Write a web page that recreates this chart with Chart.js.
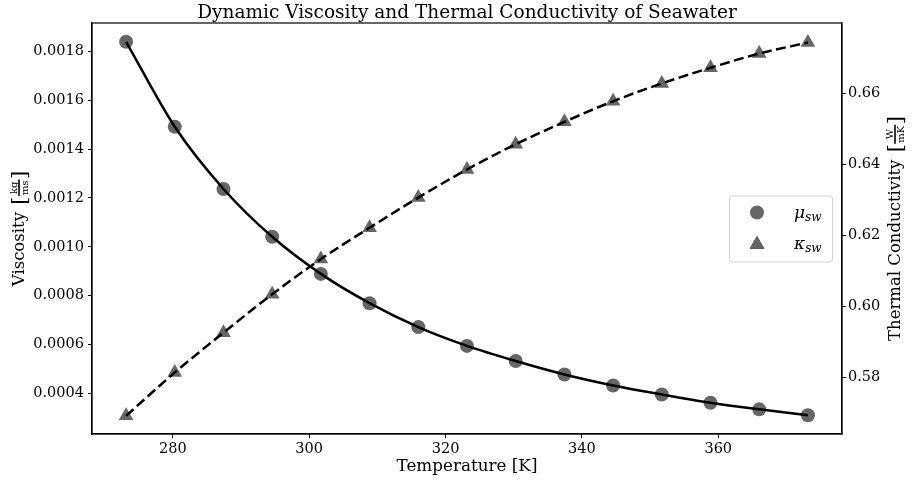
<!DOCTYPE html>
<html>
<head>
<meta charset="utf-8">
<script src="https://cdn.jsdelivr.net/npm/chart.js@4.4.1/dist/chart.umd.min.js"></script>
<style>
    html, body { margin: 0; padding: 0; background: #fff; }
    #wrap { width: 912px; height: 480px; }
</style>
</head>
<body>
<div id="wrap"><canvas id="chart" width="912" height="480"></canvas></div>
<script>
// Seawater properties vs temperature
const temps = [273.15, 280.29, 287.44, 294.58, 301.72, 308.86, 316.01, 323.15, 330.29, 337.44, 344.58, 351.72, 358.86, 366.01, 373.15];
const viscosity = [0.00184, 0.001492, 0.001237, 0.001041, 0.000889, 0.000769, 0.000671, 0.000594, 0.000532, 0.000477, 0.000432, 0.000395, 0.000361, 0.000334, 0.00031];
const conductivity = [0.5692, 0.5814, 0.5926, 0.6034, 0.6133, 0.6221, 0.6306, 0.6385, 0.6456, 0.6519, 0.6577, 0.6627, 0.6671, 0.6711, 0.6742];

// Tick labels
const xTicks = [280, 300, 320, 340, 360];
const viscTicks = [0.0004, 0.0006, 0.0008, 0.0010, 0.0012, 0.0014, 0.0016, 0.0018];
const condTicks = [0.58, 0.60, 0.62, 0.64, 0.66];

const SERIF = '"DejaVu Serif", serif';
const MARKER = '#666666';

const toPoints = ys => temps.map((t, i) => ({ x: t, y: ys[i] }));

// Draw "word [num/den]" rotated bottom-to-top, centred on (cx, cy)
function drawFracLabel(ctx, cx, cy, word, num, den) {
    ctx.save();
    ctx.translate(cx, cy);
    ctx.rotate(-Math.PI / 2);
    ctx.fillStyle = '#000';
    ctx.strokeStyle = '#000';
    ctx.textAlign = 'left';
    ctx.textBaseline = 'alphabetic';

    const wordFont = '16.5px ' + SERIF;
    const fracFont = '10px ' + SERIF;
    const brFont = '21px ' + SERIF;

    ctx.font = wordFont;
    const wWord = ctx.measureText(word + ' ').width + 2;
    ctx.font = fracFont;
    const wFrac = Math.max(ctx.measureText(num).width, ctx.measureText(den).width) + 3;
    ctx.font = brFont;
    const wBr = ctx.measureText('[').width;
    const total = wWord + wBr * 2 + wFrac;

    let x = -total / 2;
    const base = 5;
    ctx.font = wordFont;
    ctx.fillText(word, x, base);
    x += wWord;

    ctx.font = brFont;
    ctx.fillText('[', x, base + 2);
    x += wBr;

    // fraction
    const mid = base - 5;
    ctx.font = fracFont;
    ctx.textAlign = 'center';
    ctx.fillText(num, x + wFrac / 2, mid - 2);
    ctx.fillText(den, x + wFrac / 2, mid + 9);
    ctx.lineWidth = 1.6;
    ctx.beginPath();
    ctx.moveTo(x + 0.5, mid);
    ctx.lineTo(x + wFrac - 0.5, mid);
    ctx.stroke();
    x += wFrac;

    ctx.textAlign = 'left';
    ctx.font = brFont;
    ctx.fillText(']', x, base + 2);
    ctx.restore();
}

// Titles, frame and legend box
const decorations = {
    id: 'decorations',
    afterDatasetsDraw(chart) {
        const { ctx, chartArea: a } = chart;
        ctx.save();

        // axes frame
        ctx.strokeStyle = '#000';
        ctx.lineWidth = 1.2;
        ctx.strokeRect(a.left, a.top, a.right - a.left, a.bottom - a.top);

        // chart title
        ctx.fillStyle = '#000';
        ctx.font = '18.5px ' + SERIF;
        ctx.textAlign = 'center';
        ctx.textBaseline = 'alphabetic';
        ctx.fillText('Dynamic Viscosity and Thermal Conductivity of Seawater', (a.left + a.right) / 2, 18);

        // x axis title
        ctx.font = '16.8px ' + SERIF;
        ctx.fillText('Temperature [K]', (a.left + a.right) / 2, 471);

        const cy = (a.top + a.bottom) / 2;
        drawFracLabel(ctx, 19, cy, 'Viscosity', 'kg', 'ms');
        drawFracLabel(ctx, 895, cy, 'Thermal Conductivity', 'W', 'mK');

        // legend
        const bw = 103, bh = 66;
        const bx = a.right - 10 - bw, by = cy - bh / 2;
        ctx.fillStyle = 'rgba(255,255,255,0.8)';
        ctx.strokeStyle = '#d0d0d0';
        ctx.lineWidth = 1;
        ctx.beginPath();
        ctx.roundRect(bx + 0.5, by + 0.5, bw, bh, 3);
        ctx.fill();
        ctx.stroke();

        const rows = [
            { style: 'circle', sym: 'μ', sub: 'sw', y: by + 17 },
            { style: 'triangle', sym: 'κ', sub: 'sw', y: by + 48 }
        ];
        rows.forEach(r => {
            Chart.helpers.drawPoint(ctx, {
                pointStyle: r.style, radius: r.style === 'circle' ? 7 : 8.5,
                borderWidth: 0, rotation: 0
            }, bx + 28, r.y + (r.style === 'circle' ? 0 : 1));
            ctx.fillStyle = MARKER;
            ctx.fill();
            ctx.fillStyle = '#000';
            ctx.textAlign = 'left';
            ctx.font = 'italic 17px ' + SERIF;
            ctx.fillText(r.sym, bx + 65, r.y + 5);
            const w = ctx.measureText(r.sym).width;
            ctx.font = 'italic 12px ' + SERIF;
            ctx.fillText(r.sub, bx + 65 + w, r.y + 8);
        });

        ctx.restore();
    }
};

const tickFont = { family: SERIF, size: 14.5 };

new Chart(document.getElementById('chart').getContext('2d'), {
    type: 'scatter',
    data: {
        datasets: [
            {
                type: 'line',
                data: toPoints(viscosity),
                yAxisID: 'y',
                borderColor: '#000',
                borderWidth: 2.5,
                pointRadius: 0,
                cubicInterpolationMode: 'monotone',
                order: 0
            },
            {
                type: 'line',
                data: toPoints(conductivity),
                yAxisID: 'y1',
                borderColor: '#000',
                borderWidth: 2.5,
                borderDash: [10, 4.5],
                pointRadius: 0,
                cubicInterpolationMode: 'monotone',
                order: 0
            },
            {
                label: 'μsw',
                data: toPoints(viscosity),
                yAxisID: 'y',
                pointStyle: 'circle',
                pointRadius: 7,
                backgroundColor: MARKER,
                borderWidth: 0,
                order: 1
            },
            {
                label: 'κsw',
                data: toPoints(conductivity),
                yAxisID: 'y1',
                pointStyle: 'triangle',
                pointRadius: 8.5,
                backgroundColor: MARKER,
                borderWidth: 0,
                order: 1
            }
        ]
    },
    options: {
        responsive: false,
        animation: false,
        layout: { padding: { top: 23 } },
        plugins: {
            legend: { display: false },
            title: { display: false },
            tooltip: { enabled: false }
        },
        scales: {
            x: {
                type: 'linear',
                min: 268.15,
                max: 378.15,
                afterBuildTicks: s => { s.ticks = xTicks.map(v => ({ value: v })); },
                afterFit: s => { s.height = 46; },
                grid: { display: true, drawOnChartArea: false, tickLength: 4, color: '#000' },
                border: { display: true, color: '#000', width: 1.2 },
                ticks: { font: tickFont, color: '#000', padding: 3, maxRotation: 0, callback: v => String(v) }
            },
            y: {
                position: 'left',
                min: 0.000233,
                max: 0.001917,
                afterBuildTicks: s => { s.ticks = viscTicks.map(v => ({ value: v })); },
                afterFit: s => { s.width = 92; },
                grid: { display: true, drawOnChartArea: false, tickLength: 4, color: '#000' },
                border: { display: true, color: '#000', width: 1.2 },
                ticks: { font: tickFont, color: '#000', padding: 4, callback: v => v.toFixed(4) }
            },
            y1: {
                position: 'right',
                min: 0.5641,
                max: 0.6797,
                afterBuildTicks: s => { s.ticks = condTicks.map(v => ({ value: v })); },
                afterFit: s => { s.width = 70; },
                grid: { display: true, drawOnChartArea: false, tickLength: 4, color: '#000' },
                border: { display: true, color: '#000', width: 1.2 },
                ticks: { font: tickFont, color: '#000', padding: 2, callback: v => v.toFixed(2) }
            }
        }
    },
    plugins: [decorations]
});
</script>
</body>
</html>
